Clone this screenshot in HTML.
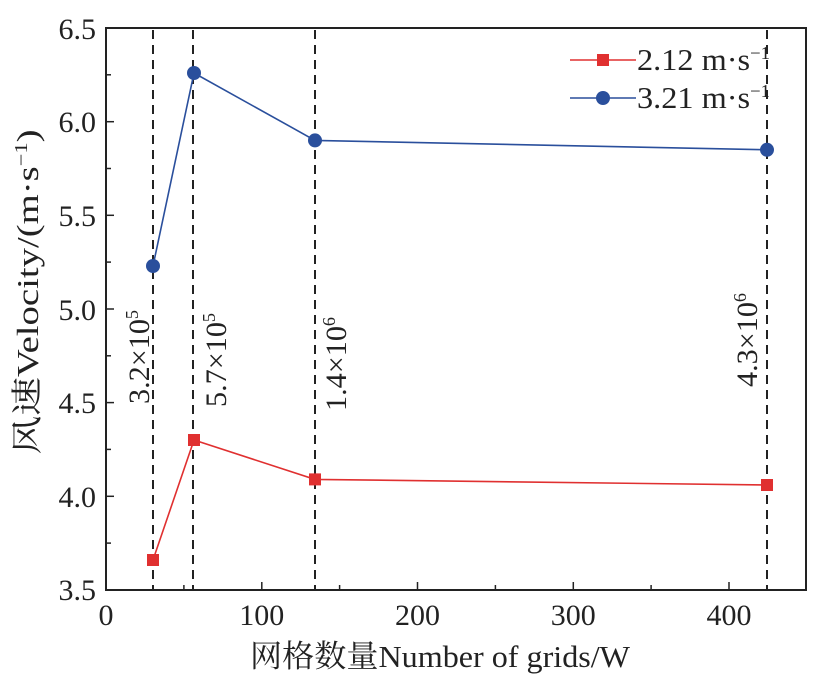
<!DOCTYPE html>
<html><head><meta charset="utf-8"><style>
html,body{margin:0;padding:0;background:#fff;}
svg text{font-family:"Liberation Serif","Noto Serif CJK SC",serif;fill:#222;}
</style></head><body>
<svg width="827" height="684" viewBox="0 0 827 684" xmlns="http://www.w3.org/2000/svg">
<rect x="106" y="28" width="700" height="562" fill="none" stroke="#222" stroke-width="2"/>
<g stroke="#222" stroke-width="1.5">
<line x1="106" y1="121.7" x2="114" y2="121.7"/><line x1="106" y1="215.3" x2="114" y2="215.3"/>
<line x1="106" y1="309" x2="114" y2="309"/><line x1="106" y1="402.6" x2="114" y2="402.6"/>
<line x1="106" y1="496.3" x2="114" y2="496.3"/>
<line x1="106" y1="74.8" x2="111" y2="74.8"/><line x1="106" y1="168.5" x2="111" y2="168.5"/>
<line x1="106" y1="262.1" x2="111" y2="262.1"/><line x1="106" y1="355.8" x2="111" y2="355.8"/>
<line x1="106" y1="449.4" x2="111" y2="449.4"/><line x1="106" y1="543.1" x2="111" y2="543.1"/>
<line x1="261.8" y1="590" x2="261.8" y2="582"/><line x1="417.5" y1="590" x2="417.5" y2="582"/>
<line x1="573.3" y1="590" x2="573.3" y2="582"/><line x1="729" y1="590" x2="729" y2="582"/>
<line x1="183.9" y1="590" x2="183.9" y2="585"/><line x1="339.6" y1="590" x2="339.6" y2="585"/>
<line x1="495.4" y1="590" x2="495.4" y2="585"/><line x1="651.1" y1="590" x2="651.1" y2="585"/>
</g>
<g font-size="30" text-anchor="end">
<text x="96" y="39">6.5</text><text x="96" y="132">6.0</text><text x="96" y="226">5.5</text>
<text x="96" y="320">5.0</text><text x="96" y="413">4.5</text><text x="96" y="507">4.0</text>
<text x="96" y="600">3.5</text>
</g>
<g font-size="30" text-anchor="middle">
<text x="106" y="625">0</text><text x="261.8" y="625">100</text><text x="417.5" y="625">200</text>
<text x="573.3" y="625">300</text><text x="729" y="625">400</text>
<text x="440" y="667" textLength="380" lengthAdjust="spacingAndGlyphs" font-size="31">网格数量Number of grids/W</text>
</g>
<text font-size="31" text-anchor="middle" transform="translate(38,292) rotate(-90)" textLength="325" lengthAdjust="spacingAndGlyphs">风速Velocity/(m·s<tspan font-size="18" dy="-11">−1</tspan><tspan dy="11">)</tspan></text>
<g stroke="#222" stroke-width="2" stroke-dasharray="9,6">
<line x1="153" y1="30" x2="153" y2="590"/><line x1="193" y1="30" x2="193" y2="590"/>
<line x1="315" y1="30" x2="315" y2="590"/><line x1="767" y1="30" x2="767" y2="590"/>
</g>
<g font-size="30" text-anchor="middle">
<text transform="translate(149,357) rotate(-90)" textLength="94" lengthAdjust="spacingAndGlyphs">3.2×10<tspan font-size="18" dy="-11">5</tspan></text>
<text transform="translate(226,360) rotate(-90)" textLength="94" lengthAdjust="spacingAndGlyphs">5.7×10<tspan font-size="18" dy="-11">5</tspan></text>
<text transform="translate(346,364) rotate(-90)" textLength="94" lengthAdjust="spacingAndGlyphs">1.4×10<tspan font-size="18" dy="-11">6</tspan></text>
<text transform="translate(757,340) rotate(-90)" textLength="94" lengthAdjust="spacingAndGlyphs">4.3×10<tspan font-size="18" dy="-11">6</tspan></text>
</g>
<polyline points="153,266 194,73 315,140.4 767,149.8" fill="none" stroke="#2a4f9c" stroke-width="1.6"/>
<g fill="#2a4f9c"><circle cx="153" cy="266" r="7"/><circle cx="194" cy="73" r="7"/><circle cx="315" cy="140.4" r="7"/><circle cx="767" cy="149.8" r="7"/></g>
<polyline points="153,560 194,440 315,479.4 767,485" fill="none" stroke="#e03030" stroke-width="1.6"/>
<g fill="#e03030"><rect x="147" y="554" width="12" height="12"/><rect x="188" y="434" width="12" height="12"/><rect x="309" y="473.4" width="12" height="12"/><rect x="761" y="479" width="12" height="12"/></g>
<line x1="570" y1="60" x2="636" y2="60" stroke="#e03030" stroke-width="1.6"/>
<rect x="597" y="54" width="12" height="12" fill="#e03030"/>
<text x="637" y="70" font-size="31" textLength="133" lengthAdjust="spacingAndGlyphs">2.12 m·s<tspan font-size="18" dy="-11">−1</tspan></text>
<line x1="570" y1="98" x2="636" y2="98" stroke="#2a4f9c" stroke-width="1.6"/>
<circle cx="603" cy="98" r="7" fill="#2a4f9c"/>
<text x="637" y="108" font-size="31" textLength="133" lengthAdjust="spacingAndGlyphs">3.21 m·s<tspan font-size="18" dy="-11">−1</tspan></text>
</svg>
</body></html>
